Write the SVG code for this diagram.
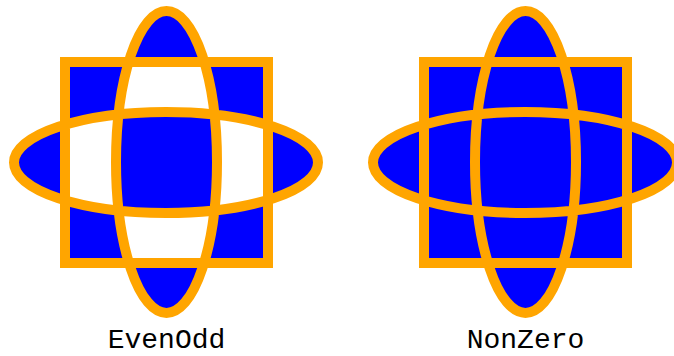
<svg xmlns="http://www.w3.org/2000/svg" width="674" height="356" viewBox="0 0 674 356">
  <style>
    .shape { fill: #0000ff; stroke: #ffa500; stroke-width: 10; }
    .label { font-family: "Liberation Mono", "Courier New", monospace; font-size: 28px; fill: #000000; text-anchor: middle; }
  </style>
  <defs>
    <path id="star" d="M65,62 H268 V263 H65 Z M116,162 A50.5,151 0 0,1 217,162 A50.5,151 0 0,1 116,162 Z M14,162.5 A152,50.5 0 0,1 318,162.5 A152,50.5 0 0,1 14,162.5 Z"/>
  </defs>
  <rect width="674" height="356" fill="#ffffff"/>
  <g id="evenodd">
    <use href="#star" class="shape" style="fill-rule:evenodd"/>
    <text class="label" x="166.5" y="348">EvenOdd</text>
  </g>
  <g id="nonzero">
    <use href="#star" class="shape" transform="translate(359,0)" style="fill-rule:nonzero"/>
    <text class="label" x="525.5" y="348">NonZero</text>
  </g>
  <g id="connectors"/>
</svg>
